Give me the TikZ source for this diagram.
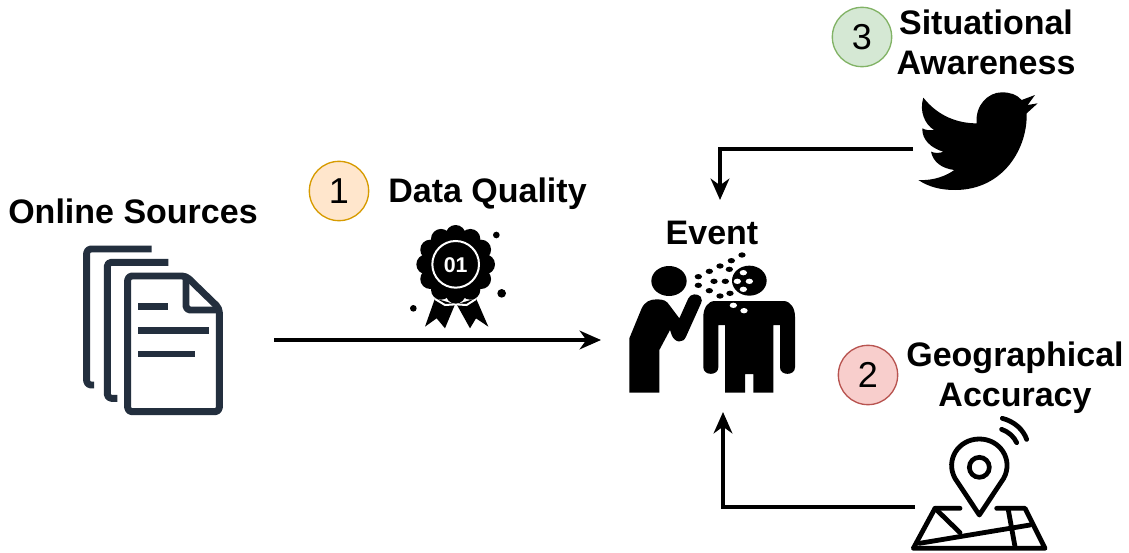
\documentclass[tikz,border=0pt]{standalone}
\usepackage{fontspec}
\setmainfont{Liberation Sans}
\usetikzlibrary{arrows.meta}
\definecolor{docblue}{HTML}{232F3E}
\tikzset{
  lbl/.style={font=\bfseries\fontsize{25.5pt}{30pt}\selectfont, align=center, inner sep=0pt, text=black},
  badge/.style={circle, draw, line width=1pt, minimum size=44.5pt, inner sep=0pt, font=\fontsize{27pt}{30pt}\selectfont},
  conn/.style={line width=3pt, -{Stealth[length=16pt,width=14pt,inset=5pt]}},
  docline/.style={draw=docblue, line width=5.2pt, line join=round, rounded corners=3pt},
  mapline/.style={draw=black, line width=3.6pt, line join=round, line cap=round},
  icon/.style={shift={#1}, scale=1/3},
}
\begin{document}
\begin{tikzpicture}[x=0.75pt,y=-0.75pt]
\useasboundingbox (0,0) rectangle (1129,553);
\fill[white] (0,0) rectangle (1129,553);

% documents
\draw[docline] (151.7,249) -- (86.7,249) -- (86.7,385) -- (94,385);
\draw[docline] (168.3,262.3) -- (107.3,262.3) -- (107.3,398.3) -- (117.3,398.3);
\draw[docline] (186,276) -- (127.7,276) -- (127.7,411.7) -- (219.3,411.7) -- (219.3,308.3) -- cycle;
\draw[docline] (186,276) -- (186,310) -- (219.3,310);
\draw[docline, rounded corners=0pt] (138,306.3) -- (168.3,306.3) (138,330.3) -- (209,330.3) (138,354) -- (195.3,354);

% medal
\begin{scope}[icon={(400,215)}]
  \fill (105,250) -- (75,335) -- (110,310) -- (135,340) -- (165,268) -- cycle;
  \fill (170,268) -- (210,340) -- (228,310) -- (265,335) -- (228,250) -- cycle;
  \draw[white, line width=1.5pt] (105,252) -- (135,270) -- (167,268) -- (200,270) -- (228,252);
  \foreach \a in {0,30,...,330}
    \fill (167,148) ++(\a:88) circle (30);
  \fill (167,148) circle (95);
  \draw[white, line width=1.5pt] (167,148) circle (70);
  \node[text=white, font=\bfseries\fontsize{16pt}{16pt}\selectfont, inner sep=0pt] (medaltext) at (167,150) {01};
  \fill (289,60) circle (10);
  \fill (305,235) circle (13);
  \fill (40,280) circle (10);
\end{scope}

% people
\begin{scope}[icon={(620,240)}]
  \fill (147,123) ellipse [x radius=53, y radius=45];
  \fill (28,458) -- (28,295) -- (65,205) .. controls (75,185) and (90,178) .. (110,178)
     .. controls (130,178) and (140,182) .. (148,195) -- (178,235) -- (205,175)
     .. controls (212,160) and (232,160) .. (242,170) .. controls (248,178) and (245,185) .. (243,190)
     -- (198,290) .. controls (190,310) and (165,310) .. (155,285) -- (150,270) -- (118,330) -- (118,458) -- cycle;
  \fill (388,122) ellipse [x radius=52, y radius=45];
  \fill (285,183) -- (490,183) .. controls (512,183) and (525,205) .. (525,230) -- (525,382)
     .. controls (525,408) and (480,408) .. (480,382) -- (480,255) -- (460,255) -- (460,458)
     -- (400,458) -- (400,402) -- (375,402) -- (375,458) -- (315,458) -- (315,255) -- (295,255)
     -- (295,382) .. controls (295,408) and (250,408) .. (250,382) -- (250,230)
     .. controls (250,205) and (263,183) .. (285,183) -- cycle;
  \foreach \p in {(370,98),(352,124),(388,124),(370,148),(340,196),(372,212)}
    \fill[white] \p ellipse [x radius=11, y radius=8];
  \foreach \p in {(235,110),(235,136),(268,94),(268,152),(282,124),(316,124),(300,78),(300,168),(334,62),(330,160),(328,88),(366,45)}
    \fill \p ellipse [x radius=11, y radius=8];
\end{scope}

% bird
\begin{scope}[icon={(905,85)}]
  \fill (55,38) .. controls (100,95) and (160,115) .. (215,115)
     .. controls (210,60) and (250,22) .. (290,22)
     .. controls (315,22) and (335,28) .. (350,45)
     -- (390,30) -- (368,60) -- (398,55) -- (365,85)
     .. controls (368,190) and (295,315) .. (150,315)
     .. controls (105,315) and (70,305) .. (40,285)
     .. controls (85,288) and (125,272) .. (148,255)
     .. controls (110,250) and (85,232) .. (78,200)
     .. controls (88,205) and (105,205) .. (115,200)
     .. controls (80,190) and (50,165) .. (52,130)
     .. controls (60,135) and (75,137) .. (87,135)
     .. controls (60,118) and (42,80) .. (55,38) -- cycle;
\end{scope}

% map
\begin{scope}[icon={(900,410)}]
  \draw[line width=3.6pt, line join=round] (238,315) -- (165,205)
     .. controls (135,150) and (175,87) .. (238,87)
     .. controls (301,87) and (341,150) .. (311,205) -- cycle;
  \draw[line width=3.5pt] (238,172) circle (30);
  \draw[mapline] (307,25) .. controls (345,35) and (370,60) .. (380,88);
  \draw[mapline] (305,58) .. controls (325,65) and (342,80) .. (350,98);
  \draw[mapline] (180,295) -- (105,295) -- (40,415) -- (435,415) -- (375,295) -- (290,295);
  \draw[mapline] (105,295) -- (180,368);
  \draw[mapline] (58,400) -- (390,345);
  \draw[mapline] (325,300) -- (345,410);
\end{scope}

% labels
\node[lbl] (srclabel) at (133,211) {Online Sources};
\node[lbl] (dqlabel) at (487.5,194) {Data Quality};
\node[lbl] (eventlabel) at (712,233) {Event};
\node[lbl] (salabel) at (986,42.5) {Situational\\Awareness};
\node[lbl] (galabel) at (1015,377.5) {Geographical\\Accuracy};

% badges
\node[badge, fill=orange!18, draw=orange!85!black, fill={rgb,255:red,255;green,230;blue,204}, draw={rgb,255:red,215;green,155;blue,0}] (b1) at (339,191) {1};
\node[badge, fill={rgb,255:red,248;green,206;blue,204}, draw={rgb,255:red,184;green,84;blue,80}] (b2) at (868,375) {2};
\node[badge, fill={rgb,255:red,213;green,232;blue,212}, draw={rgb,255:red,130;green,179;blue,102}] (b3) at (862,37) {3};

% connectors
\coordinate (docsout) at (274,340);
\coordinate (eventw) at (601,340);
\coordinate (birdout) at (913,149);
\coordinate (eventn) at (720,200);
\coordinate (mapout) at (915,507);
\coordinate (events) at (723,412);
\draw[conn] (docsout) -- (eventw);
\draw[conn] (birdout) -| (eventn);
\draw[conn] (mapout) -| (events);
\end{tikzpicture}
\end{document}
